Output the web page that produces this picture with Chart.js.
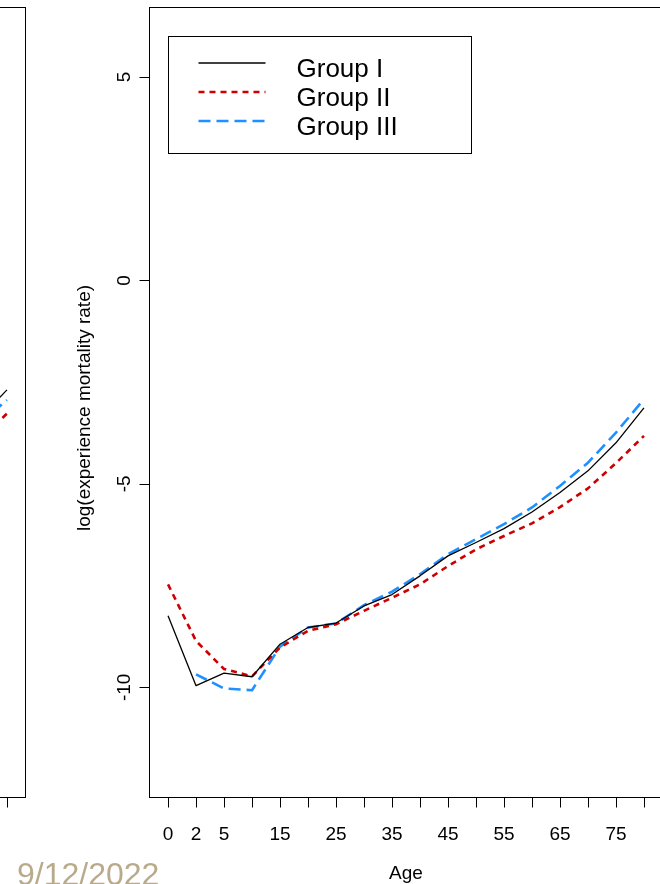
<!DOCTYPE html>
<html>
<head>
<meta charset="utf-8">
<title>log(experience mortality rate) by age</title>
<script src="https://cdn.jsdelivr.net/npm/chart.js@4.4.1/dist/chart.umd.min.js"></script>
<style>
  html, body { margin: 0; padding: 0; background: #ffffff; width: 660px; height: 884px; overflow: hidden; }
  #wrap { position: relative; width: 660px; height: 884px; overflow: hidden; }
  canvas { position: absolute; top: 0; }
  #prev { left: -637px; }
  #main { left: 0; }
  #date {
    position: absolute; left: 17px; top: 858px;
    font-family: "Liberation Sans", Arial, sans-serif; font-size: 32px; line-height: 32px;
    color: #b9aa8c; white-space: nowrap;
  }
</style>
</head>
<body>
<div id="wrap">
  <canvas id="prev" width="680" height="884"></canvas>
  <canvas id="main" width="680" height="884"></canvas>
  <div id="date">9/12/2022</div>
</div>
<script>
// Age groups along the x axis (plotted at equally spaced positions 1..n)
const ages = [0, 2, 5, 10, 15, 20, 25, 30, 35, 40, 45, 50, 55, 60, 65, 70, 75, 80];
// Age labels that are printed under their ticks (the others are left blank)
const shownAgeLabels = ['0', '2', '5', '15', '25', '35', '45', '55', '65', '75'];
const yTicks = [-10, -5, 0, 5];
const yLimits = [-12, 6];

const seriesNames = ['Group I', 'Group II', 'Group III'];

// log(experience mortality rate) per age group
const groupI   = [-8.24, -9.96, -9.65, -9.74, -8.94, -8.53, -8.42, -8.00, -7.72, -7.26, -6.77, -6.44, -6.10, -5.69, -5.21, -4.68, -3.99, -3.13];
const groupII  = [-7.47, -8.86, -9.55, -9.73, -9.02, -8.61, -8.45, -8.12, -7.80, -7.47, -7.02, -6.61, -6.28, -5.97, -5.57, -5.11, -4.49, -3.82];
const groupIII = [null,  -9.68, -10.03, -10.07, -9.00, -8.53, -8.43, -7.98, -7.65, -7.22, -6.73, -6.36, -5.99, -5.58, -5.05, -4.48, -3.74, -2.92];

// Neighbouring panel on the left: only its last age step reaches into the page
const prevGroupI   = [null, null, null, null, null, null, null, null, null, null, null, null, null, null, null, null, -3.41, -2.69];
const prevGroupII  = [null, null, null, null, null, null, null, null, null, null, null, null, null, null, null, null, -3.95, -3.27];
const prevGroupIII = [null, null, null, null, null, null, null, null, null, null, null, null, null, null, null, null, -3.53, -2.94];

const lineStyles = [
  { color: '#000000', width: 1.3, dash: [] },
  { color: '#cd0000', width: 2.6, dash: [6, 5] },
  { color: '#1e90ff', width: 2.6, dash: [12, 6] }
];

const FONT = '"Liberation Sans", Arial, Helvetica, sans-serif';

function toPoints(values) {
  return values.map((v, i) => ({ x: i + 1, y: v }));
}

// Box, ticks, tick labels, axis titles and legend in the style of a base-graphics plot
function framePlugin(showLegend) {
  return {
    id: 'frame',
    afterDraw(chart) {
      const ctx = chart.ctx;
      const area = chart.chartArea;
      const xs = chart.scales.x;
      const ys = chart.scales.y;
      const L = Math.round(area.left) + 0.5;
      const R = Math.round(area.right) - 0.5;
      const T = Math.round(area.top) + 0.5;
      const B = Math.round(area.bottom) - 0.5;

      ctx.save();
      ctx.strokeStyle = '#000';
      ctx.lineWidth = 1;
      ctx.setLineDash([]);
      ctx.strokeRect(L, T, R - L, B - T);

      // x ticks
      ctx.beginPath();
      xs.ticks.forEach(t => {
        const px = Math.round(xs.getPixelForValue(t.value)) + 0.5;
        ctx.moveTo(px, B);
        ctx.lineTo(px, B + 10);
      });
      // y ticks
      ys.ticks.forEach(t => {
        const py = Math.round(ys.getPixelForValue(t.value)) + 0.5;
        ctx.moveTo(L, py);
        ctx.lineTo(L - 10, py);
      });
      ctx.stroke();

      ctx.fillStyle = '#000';
      ctx.font = '19px ' + FONT;
      ctx.textAlign = 'center';
      ctx.textBaseline = 'alphabetic';

      // x tick labels
      xs.ticks.forEach(t => {
        const lab = String(ages[t.value - 1]);
        if (shownAgeLabels.includes(lab)) {
          ctx.fillText(lab, xs.getPixelForValue(t.value), B + 42);
        }
      });
      // x title
      ctx.fillText('Age', (area.left + area.right) / 2, 879);

      // y tick labels, reading upwards
      ys.ticks.forEach(t => {
        ctx.save();
        ctx.translate(area.left - 19, ys.getPixelForValue(t.value));
        ctx.rotate(-Math.PI / 2);
        ctx.fillText(String(t.value), 0, 0);
        ctx.restore();
      });
      // y title
      ctx.save();
      ctx.translate(area.left - 59, 408);
      ctx.rotate(-Math.PI / 2);
      ctx.fillText('log(experience mortality rate)', 0, 0);
      ctx.restore();

      if (showLegend) {
        const bx = area.left + 19.5, by = 36.5, bw = 303, bh = 117;
        ctx.strokeStyle = '#000';
        ctx.lineWidth = 1;
        ctx.strokeRect(bx, by, bw, bh);
        ctx.font = '26px ' + FONT;
        ctx.textAlign = 'left';
        chart.data.datasets.forEach((ds, i) => {
          const ly = 63 + i * 29;
          ctx.beginPath();
          ctx.strokeStyle = ds.borderColor;
          ctx.lineWidth = ds.borderWidth;
          ctx.setLineDash(ds.borderDash || []);
          ctx.moveTo(bx + 30, ly);
          ctx.lineTo(bx + 97, ly);
          ctx.stroke();
          ctx.setLineDash([]);
          ctx.fillStyle = '#000';
          ctx.fillText(ds.label, bx + 128, ly + 13.5);
        });
      }
      ctx.restore();
    }
  };
}

function makePanel(canvasId, series, showLegend) {
  const n = ages.length;
  const xPad = (n - 1) * 0.04;
  const yPad = (yLimits[1] - yLimits[0]) * 0.04;
  return new Chart(document.getElementById(canvasId), {
    type: 'line',
    data: {
      datasets: series.map((vals, i) => ({
        label: seriesNames[i],
        data: toPoints(vals),
        borderColor: lineStyles[i].color,
        borderWidth: lineStyles[i].width,
        borderDash: lineStyles[i].dash,
        borderCapStyle: 'butt',
        borderJoinStyle: 'round',
        pointRadius: 0,
        pointHoverRadius: 0,
        tension: 0,
        fill: false,
        spanGaps: false
      }))
    },
    options: {
      responsive: false,
      animation: false,
      devicePixelRatio: 1,
      layout: { padding: { top: 7, right: 17, left: 0, bottom: 0 } },
      plugins: { legend: { display: false }, tooltip: { enabled: false } },
      scales: {
        x: {
          type: 'linear',
          min: 1 - xPad,
          max: n + xPad,
          grid: { display: false },
          border: { display: false },
          ticks: { display: false },
          afterBuildTicks: s => { s.ticks = ages.map((a, i) => ({ value: i + 1 })); },
          afterFit: s => { s.height = 86; }
        },
        y: {
          type: 'linear',
          min: yLimits[0] - yPad,
          max: yLimits[1] + yPad,
          grid: { display: false },
          border: { display: false },
          ticks: { display: false },
          afterBuildTicks: s => { s.ticks = yTicks.map(v => ({ value: v })); },
          afterFit: s => { s.width = 149; }
        }
      }
    },
    plugins: [framePlugin(showLegend)]
  });
}

makePanel('prev', [prevGroupI, prevGroupII, prevGroupIII], false);
makePanel('main', [groupI, groupII, groupIII], true);
</script>
</body>
</html>
